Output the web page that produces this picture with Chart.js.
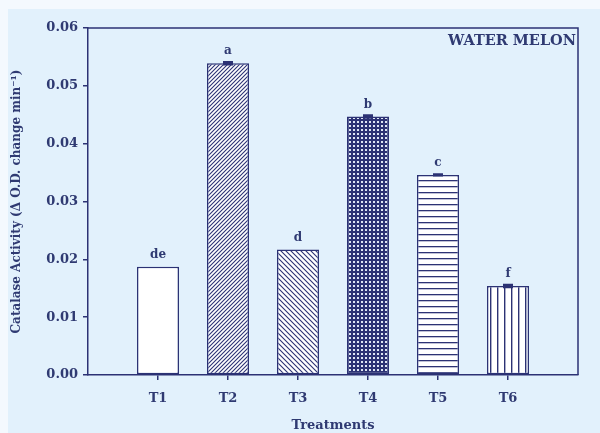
<!DOCTYPE html>
<html>
<head>
<meta charset="utf-8">
<script src="https://cdn.jsdelivr.net/npm/chart.js@4"></script>
<style>
  html, body { margin: 0; padding: 0; background: #f4f9fe; }
  canvas { display: block; }
</style>
</head>
<body>
<canvas id="chart" width="600" height="433"></canvas>
<script>
// Catalase activity in water melon under six treatments
const categories = ['T1', 'T2', 'T3', 'T4', 'T5', 'T6'];
const activity = [0.0187, 0.0539, 0.0217, 0.0447, 0.0346, 0.0154];
const errors = [0, 0.0002, 0, 0.0002, 0.0001, 0.0002];
const groupLetters = ['de', 'a', 'd', 'b', 'c', 'f'];
const yMin = 0, yMax = 0.06, yStep = 0.01;

const NAVY = '#2c3274';
const TEXT = '#2f3a72';
const PANEL = '#e2f1fc';
const FONT = "'DejaVu Serif', 'Liberation Serif', serif";

// Fill patterns for the bars
function tile(w, h, draw) {
  const c = document.createElement('canvas');
  c.width = w; c.height = h;
  const g = c.getContext('2d');
  draw(g, w, h);
  return document.createElement('canvas').getContext('2d').createPattern(c, 'repeat');
}
const patterns = [
  '#ffffff',
  tile(4, 4, (g, w, h) => {            // forward diagonal
    g.fillStyle = '#fff'; g.fillRect(0, 0, w, h);
    g.strokeStyle = NAVY; g.lineWidth = 1.1;
    g.beginPath();
    g.moveTo(-1, h + 1); g.lineTo(w + 1, -1);
    g.moveTo(-1, 1); g.lineTo(1, -1);
    g.moveTo(w - 1, h + 1); g.lineTo(w + 1, h - 1);
    g.stroke();
  }),
  tile(5, 5, (g, w, h) => {            // back diagonal
    g.fillStyle = '#fff'; g.fillRect(0, 0, w, h);
    g.strokeStyle = NAVY; g.lineWidth = 1.1;
    g.beginPath();
    g.moveTo(-1, -1); g.lineTo(w + 1, h + 1);
    g.moveTo(w - 1, -1); g.lineTo(w + 1, 1);
    g.moveTo(-1, h - 1); g.lineTo(1, h + 1);
    g.stroke();
  }),
  tile(4, 4, (g, w, h) => {            // dense dotted mesh
    g.fillStyle = NAVY; g.fillRect(0, 0, w, h);
    g.fillStyle = '#dfe6f4'; g.fillRect(1, 1, 2, 2);
  }),
  tile(6, 6, (g, w, h) => {            // horizontal lines
    g.fillStyle = '#fff'; g.fillRect(0, 0, w, h);
    g.fillStyle = NAVY; g.fillRect(0, 0, w, 1.3);
  }),
  tile(7, 7, (g, w, h) => {            // vertical lines
    g.fillStyle = '#fff'; g.fillRect(0, 0, w, h);
    g.fillStyle = NAVY; g.fillRect(0, 0, 1.4, h);
  })
];

const decor = {
  id: 'decor',
  beforeDraw(chart) {
    const ctx = chart.ctx;
    ctx.save();
    ctx.fillStyle = PANEL;
    ctx.fillRect(8, 9, chart.width - 8, chart.height - 9);
    ctx.restore();
  },
  afterDatasetsDraw(chart) {
    const ctx = chart.ctx;
    const x = chart.scales.x, y = chart.scales.y;
    const a = chart.chartArea;
    ctx.save();
    // top and right frame
    ctx.strokeStyle = NAVY; ctx.lineWidth = 1.5;
    ctx.beginPath();
    ctx.moveTo(a.left, a.top); ctx.lineTo(a.right, a.top); ctx.lineTo(a.right, a.bottom);
    ctx.stroke();
    // error bars and grouping letters
    activity.forEach((v, i) => {
      const px = x.getPixelForValue(i + 1);
      const top = y.getPixelForValue(v + errors[i]);
      if (errors[i] > 0) {
        const bot = y.getPixelForValue(v - errors[i]);
        ctx.lineWidth = 2.2;
        ctx.beginPath();
        ctx.moveTo(px - 5, top); ctx.lineTo(px + 5, top);
        ctx.moveTo(px - 5, bot); ctx.lineTo(px + 5, bot);
        ctx.moveTo(px, top); ctx.lineTo(px, bot);
        ctx.stroke();
      }
      ctx.fillStyle = TEXT;
      ctx.font = "bold 12px " + FONT;
      ctx.textAlign = 'center';
      ctx.textBaseline = 'bottom';
      ctx.fillText(groupLetters[i], px, y.getPixelForValue(v) - 6);
    });
    // panel label
    ctx.font = "bold 14.5px " + FONT;
    ctx.textAlign = 'right';
    ctx.textBaseline = 'middle';
    ctx.fillText('WATER MELON', a.right - 2, a.top + 13);
    ctx.restore();
  }
};

new Chart(document.getElementById('chart'), {
  type: 'bar',
  data: {
    datasets: [{
      data: activity.map((v, i) => ({ x: i + 1, y: v })),
      backgroundColor: patterns,
      borderColor: NAVY,
      borderWidth: 1.5,
      borderSkipped: false,
      barPercentage: 0.6,
      categoryPercentage: 1
    }]
  },
  options: {
    responsive: false,
    animation: false,
    layout: { padding: { top: 28, right: 22, left: 0, bottom: 0 } },
    plugins: { legend: { display: false }, tooltip: { enabled: false } },
    scales: {
      x: {
        type: 'linear',
        min: 0, max: 7,
        offset: false,
        afterFit: s => { s.height = 58; },
        border: { display: true, color: NAVY, width: 1.5 },
        grid: {
          offset: false,
          drawOnChartArea: false, tickLength: 5, lineWidth: 1.5,
          color: c => (c.tick && c.tick.value >= 1 && c.tick.value <= 6) ? NAVY : 'rgba(0,0,0,0)'
        },
        ticks: {
          stepSize: 1, autoSkip: false, maxRotation: 0, padding: 11,
          color: TEXT, font: { family: FONT, size: 13, weight: 'bold' },
          callback: v => categories[v - 1] || ''
        },
        title: {
          display: true, text: 'Treatments', color: TEXT,
          font: { family: FONT, size: 13, weight: 'bold' },
          padding: { top: 0, bottom: 0 }
        }
      },
      y: {
        min: yMin, max: yMax,
        afterFit: s => { s.width = 88; },
        border: { display: true, color: NAVY, width: 1.5 },
        grid: { drawOnChartArea: false, tickLength: 5, lineWidth: 1.5, color: NAVY },
        ticks: {
          stepSize: yStep, padding: 5, color: TEXT,
          font: { family: FONT, size: 13, weight: 'bold' },
          callback: v => v.toFixed(2)
        },
        title: {
          display: true, text: 'Catalase Activity (Δ O.D. change min⁻¹)', color: TEXT,
          font: { family: FONT, size: 12, weight: 'bold' },
          padding: { top: 10, bottom: 0 }
        }
      }
    }
  },
  plugins: [decor]
});
</script>
</body>
</html>
